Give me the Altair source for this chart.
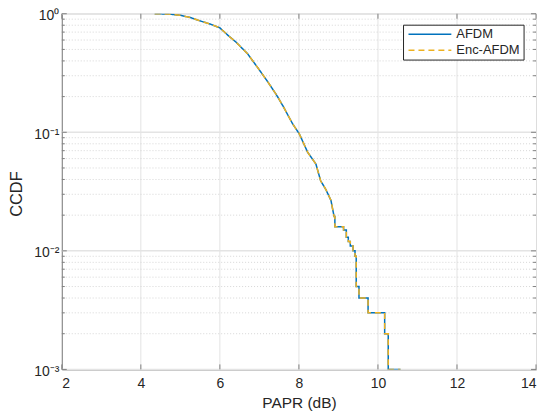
import altair as alt
import pandas as pd

# ---- data ----
PAPR_DB = [4.35, 4.7, 5.0, 5.25, 5.5, 5.75, 6.0, 6.2, 6.4, 6.7,
           6.96, 7.2, 7.42, 7.6, 7.84, 8.01, 8.22, 8.43, 8.55, 8.68,
           8.81, 8.89, 8.91, 8.91, 9.13, 9.13, 9.2, 9.2, 9.25, 9.25,
           9.3, 9.3, 9.37, 9.37, 9.42, 9.42, 9.45, 9.45, 9.52, 9.52,
           9.75, 9.75, 10.17, 10.17, 10.26, 10.26, 10.57]
CCDF_AFDM = [1.0, 0.995, 0.97, 0.93, 0.87, 0.82, 0.76, 0.66, 0.58, 0.46,
             0.35, 0.27, 0.21, 0.166, 0.118, 0.097, 0.068, 0.054, 0.039, 0.033,
             0.0267, 0.0195, 0.0195, 0.016, 0.016, 0.015, 0.015, 0.013, 0.013, 0.012,
             0.012, 0.011, 0.011, 0.010, 0.010, 0.009, 0.009, 0.005, 0.005, 0.004,
             0.004, 0.003, 0.003, 0.002, 0.002, 0.001, 0.001]
CCDF_ENC = list(CCDF_AFDM)  # the two curves coincide in the reference
SERIES = ["AFDM", "Enc-AFDM"]
COLORS = ["#0072BD", "#EDB120"]

X_TICKS = [2, 4, 6, 8, 10, 12, 14]
X_GRID = [4, 6, 8, 10, 12]
Y_MAJOR = [0.001, 0.01, 0.1, 1.0]
Y_MINOR = [2e-3, 3e-3, 4e-3, 5e-3, 6e-3, 7e-3, 8e-3, 9e-3,
           2e-2, 3e-2, 4e-2, 5e-2, 6e-2, 7e-2, 8e-2, 9e-2,
           0.2, 0.3, 0.4, 0.5, 0.6, 0.7, 0.8, 0.9]

W, H = 476, 357
FONT = "Liberation Sans"
AXIS_GRAY = "#7f7f7f"
TEXT = "#262626"

rows = []
for name, ys_ in zip(SERIES, [CCDF_AFDM, CCDF_ENC]):
    for i, (x, y) in enumerate(zip(PAPR_DB, ys_)):
        rows.append({"series": name, "papr": x, "ccdf": y, "i": i})
df = pd.DataFrame(rows)

xs = alt.Scale(domain=[2, 14], nice=False, zero=False)
ys = alt.Scale(type="log", domain=[0.001, 1], nice=False)

X_AXIS = alt.Axis(values=X_TICKS, grid=False, ticks=False, tickSize=0,
                  labelFontSize=14, labelPadding=7, labelColor=TEXT, labelFont=FONT,
                  domainColor=AXIS_GRAY, titleFont=FONT, titleFontSize=15.5,
                  titleFontWeight="normal", titleColor=TEXT,
                  titleY=38, titleBaseline="alphabetic", titleX=W / 2)
Y_AXIS = alt.Axis(values=Y_MAJOR, grid=False, ticks=False, tickSize=0,
                  labelExpr="datum.value >= 0.5 ? '10⁰' : datum.value >= 0.05 ? '10⁻¹' : datum.value >= 0.005 ? '10⁻²' : '10⁻³'",
                  labelFontSize=14, labelPadding=3, labelOffset=2, labelColor=TEXT, labelFont=FONT,
                  domainColor=AXIS_GRAY, titleFont=FONT, titleFontSize=16.5,
                  titleFontWeight="normal", titleColor=TEXT,
                  titleX=-45, titleY=H / 2 + 2, titleAngle=270,
                  titleBaseline="middle", titleAlign="center")
XT = "PAPR (dB)"
YT = "CCDF"


def X(field):
    return alt.X(field, scale=xs, axis=X_AXIS, title=XT)


def Y(field):
    return alt.Y(field, scale=ys, axis=Y_AXIS, title=YT)


xgrid_df = pd.DataFrame({"v": X_GRID})
xt_df = pd.DataFrame({"v": X_TICKS})
ymaj_df = pd.DataFrame({"v": Y_MAJOR})
ymin_df = pd.DataFrame({"v": Y_MINOR})

grid_x = alt.Chart(xgrid_df).mark_rule(color="#e3e3e3", strokeWidth=1).encode(x=X("v:Q"))
grid_ymin = alt.Chart(ymin_df).mark_rule(color="#d6d6d6", strokeWidth=1, strokeDash=[1, 2]).encode(y=Y("v:Q"))
grid_ymaj = alt.Chart(ymaj_df).mark_rule(color="#e4e4e4", strokeWidth=1.5).encode(y=Y("v:Q"))

tick_b = alt.Chart(xt_df).mark_rule(color=AXIS_GRAY).encode(x=X("v:Q"), y=alt.value(H), y2=alt.value(H - 5))
tick_t = alt.Chart(xt_df).mark_rule(color=AXIS_GRAY).encode(x=X("v:Q"), y=alt.value(0), y2=alt.value(5))
tick_l = alt.Chart(ymaj_df).mark_rule(color=AXIS_GRAY).encode(y=Y("v:Q"), x=alt.value(0), x2=alt.value(5))
tick_r = alt.Chart(ymaj_df).mark_rule(color=AXIS_GRAY).encode(y=Y("v:Q"), x=alt.value(W - 5), x2=alt.value(W))
mtick_l = alt.Chart(ymin_df).mark_rule(color=AXIS_GRAY).encode(y=Y("v:Q"), x=alt.value(0), x2=alt.value(3))
mtick_r = alt.Chart(ymin_df).mark_rule(color=AXIS_GRAY).encode(y=Y("v:Q"), x=alt.value(W - 3), x2=alt.value(W))

lines = alt.Chart(df).mark_line(strokeWidth=1.5, clip=True).encode(
    x=X("papr:Q"),
    y=Y("ccdf:Q"),
    color=alt.Color("series:N", scale=alt.Scale(domain=SERIES, range=COLORS), legend=None),
    strokeDash=alt.StrokeDash("series:N", scale=alt.Scale(domain=SERIES, range=[[1, 0], [6, 4]]),
                              legend=None),
    order=alt.Order("i:Q"),
    detail="series:N",
)

# ---- legend box (MATLAB style, drawn inside the axes) ----
LX0, LX1, LY0, LY1 = 343, 464, 11.5, 46.5
ROW_Y = [20.6, 36.6]
legend_box = alt.Chart(pd.DataFrame({"k": [0]})).mark_rect(
    fill="white", stroke=TEXT, strokeWidth=1).encode(
    x=alt.value(LX0), x2=alt.value(LX1), y=alt.value(LY0), y2=alt.value(LY1))
legend_parts = [legend_box]
for name, col, dash, ry in zip(SERIES, COLORS, [[1, 0], [6, 4]], ROW_Y):
    entry = pd.DataFrame({"label": [name]})
    legend_parts.append(alt.Chart(entry).mark_rule(color=col, strokeWidth=1.5, strokeDash=dash).encode(
        x=alt.value(348), x2=alt.value(391), y=alt.value(ry)))
    legend_parts.append(alt.Chart(entry).mark_text(
        align="left", baseline="middle", font=FONT, fontSize=13, color=TEXT).encode(
        x=alt.value(396), y=alt.value(ry), text="label:N"))

chart = alt.layer(
    grid_x, grid_ymin, grid_ymaj, tick_b, tick_t, tick_l, tick_r, mtick_l, mtick_r, lines,
    *legend_parts
).properties(
    width=W, height=H,
    autosize=alt.AutoSizeParams(type="none"),
    padding={"left": 54, "top": 5, "right": 6, "bottom": 44},
).configure_view(stroke=AXIS_GRAY, strokeWidth=1).configure(background="white")

chart.save("out.html", embed_options={"renderer": "svg", "actions": False})
